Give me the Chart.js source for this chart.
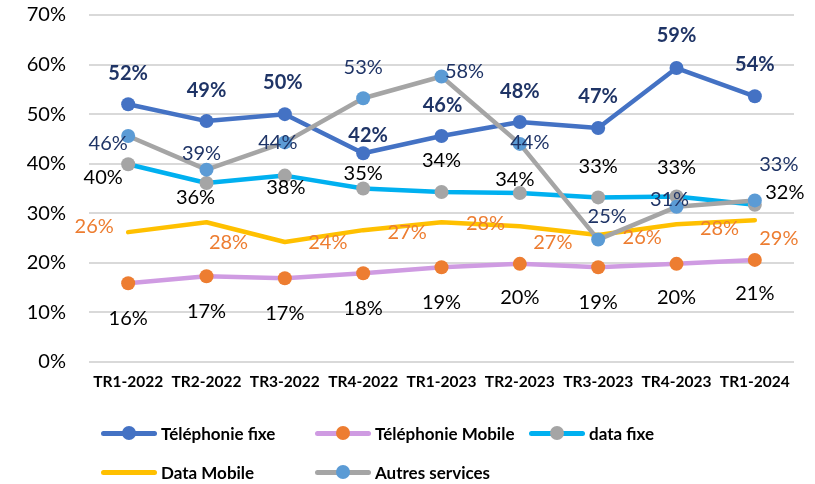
<!DOCTYPE html>
<html>
<head>
<meta charset="utf-8">
<script src="https://cdn.jsdelivr.net/npm/chart.js@4/dist/chart.umd.min.js"></script>
<style>
  html, body { margin: 0; padding: 0; background: #fff; }
  #wrap { position: relative; width: 815px; height: 484px; }
  .leg { position: absolute; height: 20px; display: flex; align-items: center; font-family: Lato, sans-serif; font-weight: bold; font-size: 17px; color: #000; white-space: nowrap; }
  .sym { position: relative; width: 56px; height: 20px; margin-right: 4px; }
  .sym .ln { position: absolute; left: 0; top: 7.5px; width: 56px; height: 5px; border-radius: 3px; }
  .sym .mk { position: absolute; left: 21px; top: 3px; width: 14px; height: 14px; border-radius: 50%; }
</style>
</head>
<body>
<div id="wrap">
  <canvas id="c" width="815" height="484"></canvas>
</div>
<script>
const categories = ["TR1-2022","TR2-2022","TR3-2022","TR4-2022","TR1-2023","TR2-2023","TR3-2023","TR4-2023","TR1-2024"];
const seriesNames = ["Téléphonie fixe","Téléphonie Mobile","data fixe","Data Mobile","Autres services"];
const telephonieFixe   = [52.0, 48.6, 50.0, 42.1, 45.6, 48.4, 47.2, 59.3, 53.6];
const telephonieMobile = [15.9, 17.3, 16.9, 17.9, 19.1, 19.8, 19.1, 19.8, 20.6];
const dataFixe         = [39.9, 36.1, 37.6, 35.0, 34.3, 34.1, 33.2, 33.4, 31.7];
const dataMobile       = [26.2, 28.2, 24.2, 26.6, 28.2, 27.4, 25.6, 27.8, 28.6];
const autresServices   = [45.6, 38.8, 44.3, 53.2, 57.6, 44.0, 24.7, 31.3, 32.6];
const yTicks = [0, 10, 20, 30, 40, 50, 60, 70];

// label placement (pixel offsets from each point), style only
const labelStyle = [
  { color: "#1F3466", bold: true,  off: [[0,-31],[0,-31],[-2,-32],[5,-18],[1,-30],[0,-31],[0,-31],[0,-32],[0,-32]] },
  { color: "#000000", bold: false, off: [[0,35],[0,35],[0,35],[0,35],[0,35],[0,34],[0,35],[0,34],[0,34]] },
  { color: "#000000", bold: false, off: [[-25,13],[-11,14],[1,12],[0,-15],[0,-31],[-5,-13],[0,-31],[0,-29],[30,-12]] },
  { color: "#ED7D31", bold: false, off: [[-34,-6],[22,20],[43,1],[44,2],[44,1],[33,16],[44,2],[43,4],[24,18]] },
  { color: "#1F3466", bold: false, off: [[-20,8],[-5,-16],[-7,0],[0,-31],[23,-5],[10,-1],[9,-23],[-7,-7],[24,-36]] }
];

const colors = [
  { line: "#4472C4", mark: "#4472C4" },
  { line: "#CF9BE2", mark: "#ED7D31" },
  { line: "#00B0F0", mark: "#A5A5A5" },
  { line: "#FFC000", mark: null },
  { line: "#A5A5A5", mark: "#5B9BD5" }
];
const allData = [telephonieFixe, telephonieMobile, dataFixe, dataMobile, autresServices];
const drawOrder = [1, 4, 3, 2, 0];

const datasets = allData.map((d, i) => ({
  label: seriesNames[i],
  data: d,
  borderColor: colors[i].line,
  backgroundColor: colors[i].mark || colors[i].line,
  borderWidth: 4.5,
  pointRadius: colors[i].mark ? 7 : 0,
  pointHoverRadius: colors[i].mark ? 7 : 0,
  pointBackgroundColor: colors[i].mark || colors[i].line,
  pointBorderColor: colors[i].mark || colors[i].line,
  pointBorderWidth: 0,
  borderJoinStyle: "round",
  borderCapStyle: "round",
  tension: 0,
  order: drawOrder[i]
}));

const labelPlugin = {
  id: "pointLabels",
  afterDatasetsDraw(chart) {
    const ctx = chart.ctx;
    ctx.save();
    ctx.textAlign = "center";
    ctx.textBaseline = "middle";
    chart.data.datasets.forEach((ds, i) => {
      const meta = chart.getDatasetMeta(i);
      const st = labelStyle[i];
      ctx.fillStyle = st.color;
      ctx.font = (st.bold ? "bold " : "") + "20px Lato, sans-serif";
      meta.data.forEach((pt, j) => {
        const o = st.off[j];
        ctx.fillText(Math.round(ds.data[j]) + "%", pt.x + o[0], pt.y + o[1]);
      });
    });
    ctx.restore();
  }
};

new Chart(document.getElementById("c"), {
  type: "line",
  data: { labels: categories, datasets },
  plugins: [labelPlugin],
  options: {
    responsive: false,
    animation: false,
    devicePixelRatio: 1,
    layout: { padding: { left: 0, top: 15, right: 21, bottom: 82 } },
    plugins: { legend: { display: false }, tooltip: { enabled: false } },
    scales: {
      x: {
        offset: true,
        grid: { display: false, drawTicks: false },
        border: { display: false },
        ticks: { color: "#000", font: { family: "Lato", weight: "bold", size: 15.5 }, padding: 11, maxRotation: 0, autoSkip: false },
        afterFit(s) { s.height = 40; s.paddingLeft = 0; s.paddingRight = 0; }
      },
      y: {
        min: 0, max: 70,
        afterBuildTicks(s) { s.ticks = yTicks.map(v => ({ value: v })); },
        grid: { color: "#D9D9D9", lineWidth: 2, drawTicks: false },
        border: { display: false },
        ticks: { color: "#000", font: { family: "Lato", size: 20 }, padding: 23, callback: v => v + "%" },
        afterFit(s) { s.width = 89; s.paddingTop = 0; s.paddingBottom = 0; }
      }
    }
  }
});

// legend (HTML, real text)
const legendPos = [[101, 423], [315, 423], [529, 423], [101, 462], [315, 462]];
const wrap = document.getElementById("wrap");
seriesNames.forEach((name, i) => {
  const el = document.createElement("div");
  el.className = "leg";
  el.style.left = legendPos[i][0] + "px";
  el.style.top = legendPos[i][1] + "px";
  const sym = document.createElement("div");
  sym.className = "sym";
  const ln = document.createElement("div");
  ln.className = "ln";
  ln.style.background = colors[i].line;
  sym.appendChild(ln);
  if (colors[i].mark) {
    const mk = document.createElement("div");
    mk.className = "mk";
    mk.style.background = colors[i].mark;
    sym.appendChild(mk);
  }
  el.appendChild(sym);
  const tx = document.createElement("span");
  tx.textContent = name;
  el.appendChild(tx);
  wrap.appendChild(el);
});
</script>
</body>
</html>
